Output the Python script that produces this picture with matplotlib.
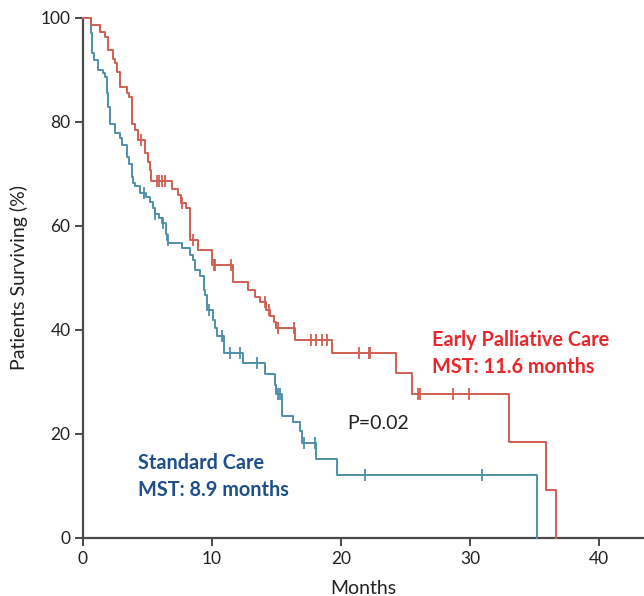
import numpy as np
import matplotlib
matplotlib.use("Agg")
import matplotlib.pyplot as plt

plt.rcParams['font.family'] = ['Lato', 'DejaVu Sans']

# Early palliative care arm: step times (months) and survival (%) after each step
epc_times = [0, 0.6, 1.3, 1.7, 1.96, 2.35, 2.48, 2.6, 2.87, 3.4, 3.6, 3.8, 4.0, 4.3,
             4.8, 5.06, 5.2, 5.3, 6.9, 7.4, 7.6, 7.95, 8.3, 8.9, 10.0, 11.6, 12.8,
             13.3, 13.7, 14.2, 14.5, 14.8, 15.0, 16.4, 19.3, 24.3, 25.5, 33.0, 35.9, 36.7]
epc_surv = [100, 98.6, 97.4, 96.4, 93.8, 92.2, 91.3, 89.7, 86.8, 85.5, 84.9, 79.7, 78.5, 76.5,
            74.0, 72.4, 70.8, 68.7, 67.2, 66.0, 64.4, 63.4, 57.3, 55.4, 52.5, 49.3, 47.7,
            46.4, 45.3, 43.8, 42.6, 41.6, 40.3, 38.1, 35.6, 31.8, 27.7, 18.5, 9.2, 0]
epc_censored = [4.5, 5.7, 5.9, 6.1, 6.35, 7.65, 8.55, 10.15, 10.25, 11.5, 14.1, 14.4, 15.1,
                16.35, 17.7, 18.1, 18.5, 18.9, 21.4, 22.15, 22.25, 26.0, 26.15, 28.7, 29.9]

# Standard care arm
std_times = [0, 0.6, 0.65, 0.7, 0.85, 1.19, 1.57, 1.7, 1.84, 1.96, 2.1, 2.5, 2.9, 3.0, 3.4,
             3.6, 3.8, 3.9, 4.0, 4.45, 4.9, 5.2, 5.45, 5.55, 5.9, 6.1, 6.4, 6.55, 6.6, 7.65,
             8.3, 8.55, 8.7, 9.1, 9.35, 9.45, 9.6, 10.05, 10.2, 10.4, 10.95, 12.4, 14.1, 14.9,
             15.0, 15.4, 16.3, 16.8, 17.0, 18.1, 19.7, 35.2]
std_surv = [100, 98.6, 97.2, 93.2, 91.9, 90.0, 89.4, 88.7, 85.5, 82.9, 79.7, 77.8, 76.9, 75.6, 73.3,
            72.0, 69.5, 68.2, 67.6, 66.3, 65.6, 64.7, 63.5, 62.4, 61.5, 60.6, 58.5, 57.4, 56.7, 55.7,
            54.4, 53.5, 51.5, 50.3, 47.7, 46.7, 43.8, 41.9, 40.3, 38.8, 35.5, 33.6, 31.5, 29.5,
            27.7, 23.5, 22.4, 20.5, 18.3, 15.2, 12.1, 0]
std_censored = [4.7, 5.6, 6.2, 6.58, 9.8, 10.75, 11.4, 12.2, 13.5, 15.1, 15.25, 17.1, 18.0,
                21.9, 30.9]

x_ticks = [0, 10, 20, 30, 40]
y_ticks = [0, 20, 40, 60, 80, 100]

EPC_COLOR = '#cf5f52'
STD_COLOR = '#4f8fa9'


def surv_at(times, surv, t):
    idx = np.searchsorted(times, t, side='right') - 1
    return np.asarray(surv)[idx]


fig = plt.figure(figsize=(6.44, 5.96), dpi=100)
ax = fig.add_axes([83 / 644, 1 - 538 / 596, (644 - 83) / 644, (538 - 18) / 596])

for times, surv, cens, col in [(std_times, std_surv, std_censored, STD_COLOR),
                               (epc_times, epc_surv, epc_censored, EPC_COLOR)]:
    ax.step(times, surv, where='post', color=col, lw=1.4, clip_on=False, zorder=3)
    ax.plot(cens, surv_at(times, surv, cens), linestyle='none', marker='|',
            markersize=8, markeredgewidth=1.3, color=col, clip_on=False, zorder=4)

ax.set_xlim(0, 43.5)
ax.set_ylim(0, 100)
ax.set_xticks(x_ticks)
ax.set_yticks(y_ticks)

for side in ('top', 'right'):
    ax.spines[side].set_visible(False)
for side in ('left', 'bottom'):
    ax.spines[side].set_color('#4a4a4a')
    ax.spines[side].set_linewidth(1.6)
ax.tick_params(direction='out', length=6, width=1.4, color='#4a4a4a',
               labelsize=12.5, labelcolor='#222222', pad=3)

ax.set_xlabel('Months', fontsize=14, color='#222222', labelpad=10)
ax.set_ylabel('Patients Surviving (%)', fontsize=14, color='#222222', labelpad=9)

ax.text(27.1, 38.1, 'Early Palliative Care', color='#e8262b', fontsize=14.3,
        fontweight='bold', ha='left', va='center')
ax.text(27.1, 32.8, 'MST: 11.6 months', color='#e8262b', fontsize=14.3,
        fontweight='bold', ha='left', va='center')
ax.text(4.25, 14.4, 'Standard Care', color='#1f4f8a', fontsize=14.3,
        fontweight='bold', ha='left', va='center')
ax.text(4.25, 9.2, 'MST: 8.9 months', color='#1f4f8a', fontsize=14.3,
        fontweight='bold', ha='left', va='center')
ax.text(20.5, 22.1, 'P=0.02', color='#222222', fontsize=14, ha='left', va='center')

fig.savefig('out.png', dpi=100, facecolor='white')
